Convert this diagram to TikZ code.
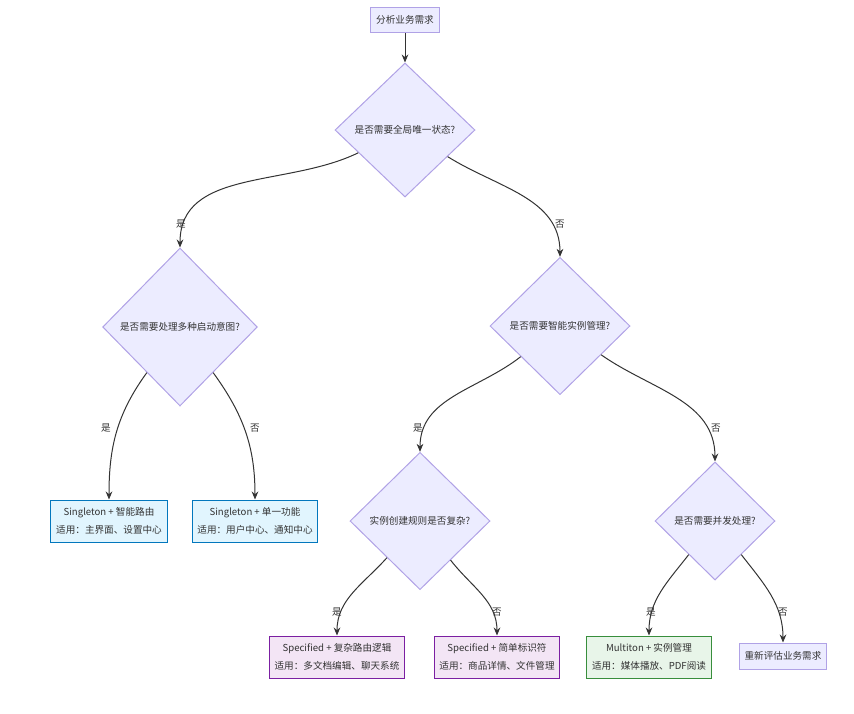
\documentclass[tikz,border=0pt]{standalone}
\usepackage{fontspec}
\setmainfont{Noto Sans CJK SC}
\usetikzlibrary{shapes.geometric,arrows.meta}

\definecolor{textcol}{HTML}{333333}
\definecolor{nodefill}{HTML}{ECECFF}
\definecolor{nodeline}{HTML}{B0A2E6}
\definecolor{singlefill}{HTML}{E1F5FE}
\definecolor{singleline}{HTML}{0277BD}
\definecolor{specfill}{HTML}{F3E5F5}
\definecolor{specline}{HTML}{7B1FA2}
\definecolor{multifill}{HTML}{E8F5E9}
\definecolor{multiline}{HTML}{388E3C}

\tikzset{
  base/.style={font=\fontsize{7.2}{13}\selectfont, text=textcol},
  box/.style={base, draw=nodeline, fill=nodefill, line width=0.75pt, align=center, inner xsep=4pt},
  decision/.style={base, diamond, draw=nodeline, fill=nodefill, line width=0.75pt, inner sep=0pt, align=center},
  leaf/.style={box, minimum height=31.5pt},
  singleleaf/.style={leaf, draw=singleline, fill=singlefill},
  specleaf/.style={leaf, draw=specline, fill=specfill},
  multileaf/.style={leaf, draw=multiline, fill=multifill},
  lbl/.style={base, inner sep=1pt},
  link/.style={draw=textcol, line width=0.75pt, -{Stealth[length=6pt,width=5pt]}}
}

\begin{document}
\begin{tikzpicture}[x=0.75pt, y=-0.75pt]
        \useasboundingbox (0,0) rectangle (854,714);
        \node[box, minimum height=18.75pt] (start) at (405,20) {分析业务需求};
        \node[decision, minimum width=105pt, minimum height=100.5pt] (d1) at (405,130) {是否需要全局唯一状态?};
        \node[decision, minimum width=116pt, minimum height=118.5pt] (d2) at (180,327) {是否需要处理多种启动意图?};
        \node[decision, minimum width=105pt, minimum height=103pt] (d3) at (560,326) {是否需要智能实例管理?};
        \node[decision, minimum width=105pt, minimum height=103pt] (d4) at (420,521) {实例创建规则是否复杂?};
        \node[decision, minimum width=90pt, minimum height=88.5pt] (d5) at (715,521) {是否需要并发处理?};

        \node[singleleaf] (l1) at (109,521) {Singleton + 智能路由\\适用：主界面、设置中心};
        \node[singleleaf] (l2) at (255,521) {Singleton + 单一功能\\适用：用户中心、通知中心};
        \node[specleaf] (l3) at (337,657) {Specified + 复杂路由逻辑\\适用：多文档编辑、聊天系统};
        \node[specleaf] (l4) at (497,657) {Specified + 简单标识符\\适用：商品详情、文件管理};
        \node[multileaf] (l5) at (649,657) {Multiton + 实例管理\\适用：媒体播放、PDF阅读};
        \node[box, minimum height=19.5pt] (l6) at (783,656) {重新评估业务需求};

        \draw[link] (start) -- (d1);
        \draw[link] (d1) to[out=206, in=90] (d2);
        \draw[link] (d1) to[out=328, in=90] (d3);
        \draw[link] (d2) to[out=234, in=90] (l1);
        \draw[link] (d2) to[out=306, in=90] (l2);
        \draw[link] (d3) to[out=218, in=90] (d4);
        \draw[link] (d3) to[out=325, in=90] (d5);
        \draw[link] (d4) to[out=228, in=90] (l3);
        \draw[link] (d4) to[out=308, in=90] (l4);
        \draw[link] (d5) to[out=232, in=90] (l5);
        \draw[link] (d5) to[out=308, in=90] (l6);

        \node[lbl] (y1) at (181,224) {是};
        \node[lbl] (n1) at (560,224) {否};
        \node[lbl] (y2) at (106,428) {是};
        \node[lbl] (n2) at (255,428) {否};
        \node[lbl] (y3) at (418,428) {是};
        \node[lbl] (n3) at (716,428) {否};
        \node[lbl] (y4) at (337,612) {是};
        \node[lbl] (n4) at (497,612) {否};
        \node[lbl] (y5) at (651,612) {是};
        \node[lbl] (n5) at (783,612) {否};
    \end{tikzpicture}
\end{document}
